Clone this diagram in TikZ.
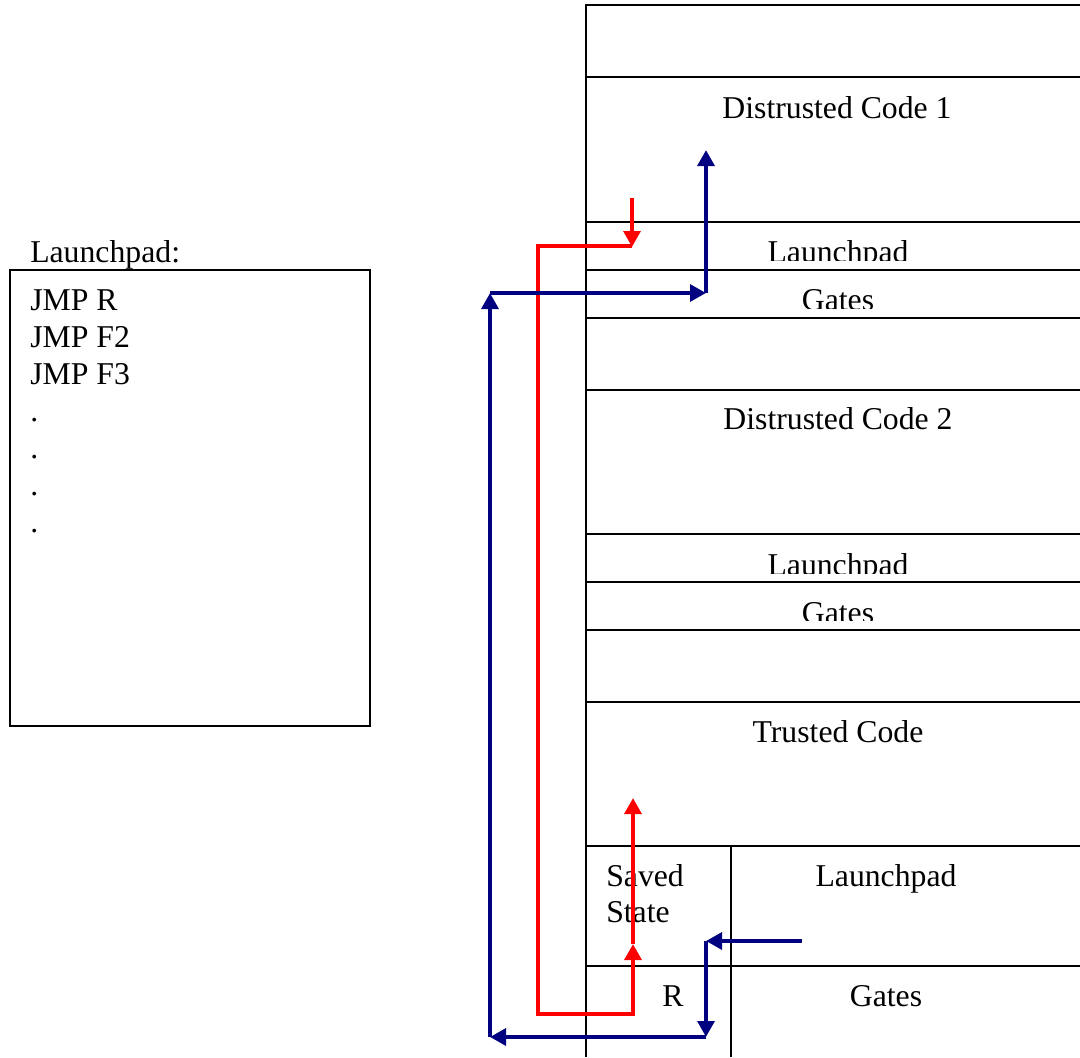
\documentclass[tikz,border=0pt]{standalone}
\usepackage{fontspec}
\setmainfont{Liberation Serif}
\usetikzlibrary{arrows.meta}
\definecolor{navyblue}{RGB}{0,0,128}
\definecolor{pureRed}{RGB}{255,0,0}
\begin{document}
\begin{tikzpicture}[x=0.75pt,y=-0.75pt,
  frame/.style={draw=black,line width=1.5pt},
  lbl/.style={anchor=base,inner sep=0pt,font=\fontsize{23.8}{27.75}\selectfont},
  lblw/.style={anchor=base west,inner sep=0pt,font=\fontsize{23.8}{27.75}\selectfont},
  tipA/.style={-{Triangle[length=12pt,width=12.5pt]}},
  redflow/.style={draw=pureRed,line width=3.6pt,tipA},
  blueflow/.style={draw=navyblue,line width=3.6pt,tipA}]
\useasboundingbox (0,0) rectangle (1080,1057);

% ---- left launchpad box ----
\node[lblw] (lpTitle) at (30,262) {Launchpad:};
\draw[frame] (10,270) rectangle (370,726);
\node[lblw] (j1) at (30,310) {JMP R};
\node[lblw] (j2) at (30,347) {JMP F2};
\node[lblw] (j3) at (30,384) {JMP F3};
\node[lblw] (d1) at (30,421) {.};
\node[lblw] (d2) at (30,458) {.};
\node[lblw] (d3) at (30,495) {.};
\node[lblw] (d4) at (30,532) {.};

% ---- memory column ----
\draw[frame] (1080,5) -- (586,5) -- (586,1057);
\foreach \yy in {77,222,270,318,390,534,582,630,702,846,966}
  \draw[frame] (586,\yy) -- (1080,\yy);
\draw[frame] (731,846) -- (731,1057);

\node[lbl] (dc1) at (837,118) {Distrusted Code 1};
\begin{scope}
  \clip (586,222) rectangle (1080,260);
  \node[lbl] (lp1) at (838,262) {Launchpad};
\end{scope}
\begin{scope}
  \clip (586,270) rectangle (1080,308);
  \node[lbl] (g1) at (838,310) {Gates};
\end{scope}
\node[lbl] (dc2) at (838,429) {Distrusted Code 2};
\begin{scope}
  \clip (586,534) rectangle (1080,573);
  \node[lbl] (lp2) at (838,575) {Launchpad};
\end{scope}
\begin{scope}
  \clip (586,582) rectangle (1080,620);
  \node[lbl] (g2) at (838,623) {Gates};
\end{scope}
\node[lbl] (tc) at (838,742) {Trusted Code};
\node[lblw] (ss1) at (606,886) {Saved};
\node[lblw] (ss2) at (606,922) {State};
\node[lbl] (lp3) at (886,886) {Launchpad};
\node[lbl] (rr) at (673,1006) {R};
\node[lbl] (g3) at (886,1006) {Gates};

% ---- flow coordinates ----
\coordinate (rA) at (632,198);
\coordinate (rB) at (632,247);
\coordinate (rC) at (538,246);
\coordinate (rD) at (538,1014);
\coordinate (rE) at (633,1014);
\coordinate (rF) at (633,944);
\coordinate (rG) at (633,798);

\coordinate (bA) at (802,941);
\coordinate (bB) at (706,941);
\coordinate (bC) at (706,1037);
\coordinate (bD) at (490,1037);
\coordinate (bE) at (490,293);
\coordinate (bF) at (706,293);
\coordinate (bG) at (706,150);

% ---- red flow ----
\draw[redflow] (rA) -- (rB);
\draw[redflow] (rB |- rC) -- (rC) -- (rD) -- (rE) -- (rF);
\draw[redflow] (rF) -- (rG);

% ---- blue flow ----
\draw[blueflow] (bA) -- (bB);
\draw[blueflow] (bB) -- (bC);
\draw[blueflow] (bC) -- (bD);
\draw[blueflow] (bD) -- (bE);
\draw[blueflow] (bE) -- (bF);
\draw[blueflow] (bF) -- (bG);
\end{tikzpicture}
\end{document}
